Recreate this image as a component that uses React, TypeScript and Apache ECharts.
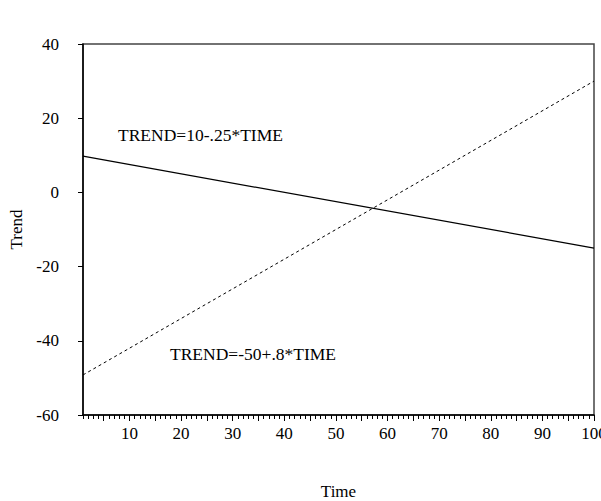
import React, { useEffect, useRef } from "react";
import * as echarts from "echarts";

// Observation range on the time axis
const timeStart = 1;
const timeEnd = 100;

// TREND=10-.25*TIME, evaluated at the first and last observation
const fallingTrend = [9.75, -15];
// TREND=-50+.8*TIME, evaluated at the first and last observation
const risingTrend = [-49.2, 30];

const xTickLabels = [10, 20, 30, 40, 50, 60, 70, 80, 90, 100];
const xMajorTicks = [5, 10, 15, 20, 25, 30, 35, 40, 45, 50, 55, 60, 65, 70, 75, 80, 85, 90, 95, 100];
const yMin = -60;
const yMax = 40;
const yStep = 20;

const fallingLabel = "TREND=10-.25*TIME";
const risingLabel = "TREND=-50+.8*TIME";

const FONT = "'Liberation Serif', 'Times New Roman', serif";

export default function App() {
  const ref = useRef<HTMLDivElement>(null);

  useEffect(() => {
    document.body.style.margin = "0";
    if (!ref.current) return;
    const chart = echarts.init(ref.current, undefined, { renderer: "svg" });

    const unitTicks: number[] = [];
    for (let t = timeStart; t <= timeEnd; t++) unitTicks.push(t);

    chart.setOption({
      animation: false,
      backgroundColor: "#fff",
      textStyle: { fontFamily: FONT },
      grid: {
        left: 83,
        top: 44,
        right: 7,
        bottom: 86,
        containLabel: false,
        outerBoundsMode: "none",
        show: true,
        borderColor: "#444",
        borderWidth: 1.5,
        backgroundColor: "transparent",
      },
      xAxis: [
        {
          type: "value",
          min: timeStart,
          max: timeEnd,
          name: "Time",
          nameLocation: "middle",
          nameGap: 68,
          nameTextStyle: { fontFamily: FONT, fontSize: 17, color: "#000" },
          axisLine: { show: true, onZero: false, lineStyle: { color: "#000", width: 1.5 } },
          axisTick: { show: true, inside: false, length: 4, customValues: unitTicks, lineStyle: { color: "#000" } },
          axisLabel: { show: true, customValues: xTickLabels, margin: 10, fontFamily: FONT, fontSize: 17, color: "#000" },
          splitLine: { show: false },
        },
        {
          type: "value",
          position: "bottom",
          min: timeStart,
          max: timeEnd,
          axisLine: { show: false, onZero: false },
          axisTick: { show: true, inside: false, length: 6, customValues: xMajorTicks, lineStyle: { color: "#000" } },
          axisLabel: { show: false },
          splitLine: { show: false },
        },
      ],
      yAxis: {
        type: "value",
        min: yMin,
        max: yMax,
        interval: yStep,
        name: "Trend",
        nameLocation: "middle",
        nameGap: 50,
        nameTextStyle: { fontFamily: FONT, fontSize: 17, color: "#000" },
        axisLine: { show: true, onZero: false, lineStyle: { color: "#000", width: 1.5 } },
        axisTick: { show: true, inside: false, length: 5, lineStyle: { color: "#000" } },
        axisLabel: { margin: 24, fontFamily: FONT, fontSize: 17, color: "#000" },
        splitLine: { show: false },
      },
      series: [
        {
          type: "line",
          name: fallingLabel,
          data: [
            [timeStart, fallingTrend[0]],
            [timeEnd, fallingTrend[1]],
          ],
          showSymbol: false,
          lineStyle: { color: "#000", width: 1.3, type: "solid" },
          silent: true,
        },
        {
          type: "line",
          name: risingLabel,
          data: [
            [timeStart, risingTrend[0]],
            [timeEnd, risingTrend[1]],
          ],
          showSymbol: false,
          lineStyle: { color: "#000", width: 1, type: [3, 3] },
          silent: true,
        },
      ],
      graphic: [
        {
          type: "text",
          left: 118,
          top: 126,
          style: { text: fallingLabel, fontFamily: FONT, fontSize: 17.5, fill: "#000" },
        },
        {
          type: "text",
          left: 170,
          top: 345,
          style: { text: risingLabel, fontFamily: FONT, fontSize: 17.5, fill: "#000" },
        },
      ],
    });

    return () => chart.dispose();
  }, []);

  return <div ref={ref} style={{ width: 601, height: 501 }} />;
}
